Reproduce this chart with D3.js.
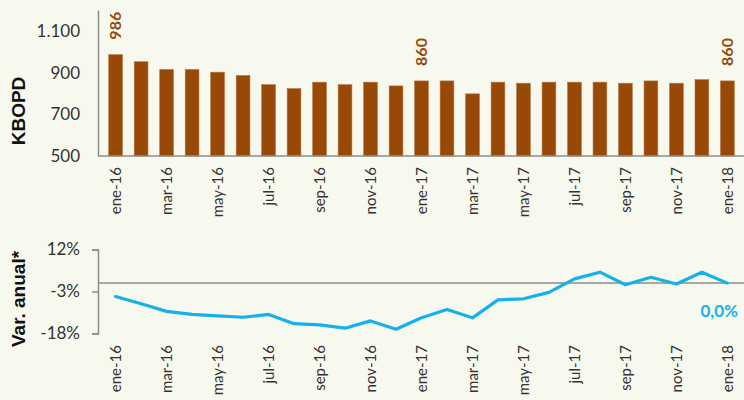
<!DOCTYPE html>
<html lang="es">
<head>
<meta charset="utf-8">
<title>Producción KBOPD</title>
<script src="https://cdn.jsdelivr.net/npm/d3@7"></script>
<style>
    body { margin: 0; background: #f8f9ee; }
    svg { display: block; }
    .tick text { fill: #333; font-family: Lato, sans-serif; }
</style>
</head>
<body>
<div id="chart"></div>
<script>
    var meses = ["ene-16", "feb-16", "mar-16", "abr-16", "may-16", "jun-16", "jul-16", "ago-16", "sep-16", "oct-16", "nov-16", "dic-16",
        "ene-17", "feb-17", "mar-17", "abr-17", "may-17", "jun-17", "jul-17", "ago-17", "sep-17", "oct-17", "nov-17", "dic-17", "ene-18"];
    var produccion = [986, 952, 915, 915, 902, 886, 842, 823, 854, 842, 854, 836,
        860, 860, 798, 854, 849, 854, 854, 854, 849, 860, 849, 866, 860];
    var varAnual = [-4.8, -7.4, -10.1, -11.2, -11.7, -12.2, -11.2, -14.5, -14.9, -16.1, -13.5, -16.5,
        -12.4, -9.4, -12.4, -6.0, -5.6, -3.3, 1.5, 3.9, -0.6, 2.1, -0.3, 3.9, 0.0];
    var etiquetasX = ["ene-16", "mar-16", "may-16", "jul-16", "sep-16", "nov-16", "ene-17", "mar-17", "may-17", "jul-17", "sep-17", "nov-17", "ene-18"];
    var ticksBarras = [500, 700, 900, 1100];
    var ticksVar = [-18, -3, 12];
    var destacados = ["ene-16", "ene-17", "ene-18"];

    var W = 744, H = 400,
        left = 98,
        marron = "#984807",
        azul = "#14b1ec",
        gris = "#8c8c8c";

    var svg = d3.select("#chart").append("svg")
        .attr("width", W)
        .attr("height", H);

    var x = d3.scaleBand().domain(meses).range([97, 746]).padding(0.46);
    var cx = function (m) { return x(m) + x.bandwidth() / 2; };

    // --- barras ---
    var y1 = d3.scaleLinear().domain([500, 1200]).range([156, 10]);

    svg.append("g").selectAll("rect").data(produccion)
        .enter().append("rect")
        .attr("x", function (d, i) { return x(meses[i]); })
        .attr("y", function (d) { return y1(d); })
        .attr("width", x.bandwidth())
        .attr("height", function (d) { return y1(500) - y1(d); })
        .style("fill", marron)
        .style("stroke", "#b87440")
        .style("stroke-width", 0.6);

    // etiquetas de valor en ene de cada año
    svg.append("g").selectAll("text").data(destacados)
        .enter().append("text")
        .attr("transform", function (m) {
            var v = produccion[meses.indexOf(m)];
            return "translate(" + cx(m) + "," + (y1(v) - 15) + ") rotate(-90)";
        })
        .attr("dy", "0.36em")
        .style("font-family", "Lato, sans-serif")
        .style("font-weight", "bold")
        .style("font-size", "16px")
        .style("fill", marron)
        .text(function (m) { return produccion[meses.indexOf(m)]; });

    var ejeY1 = svg.append("g").attr("transform", "translate(" + left + ",0)")
        .call(d3.axisLeft(y1).tickValues(ticksBarras).tickSize(0).tickPadding(18)
            .tickFormat(function (d) { return d3.format(",")(d).replace(",", "."); }));
    ejeY1.select(".domain").attr("stroke", gris).attr("stroke-width", 1.5);
    ejeY1.selectAll("text").style("font-size", "17px");

    svg.append("line")
        .attr("x1", left).attr("x2", W)
        .attr("y1", y1(500)).attr("y2", y1(500))
        .attr("stroke", gris).attr("stroke-width", 1.5);

    var ejeX1 = svg.append("g").attr("transform", "translate(0," + y1(500) + ")")
        .call(d3.axisBottom(x).tickValues(etiquetasX).tickSize(0));
    ejeX1.select(".domain").remove();
    ejeX1.selectAll("text")
        .attr("transform", "rotate(-90)")
        .attr("x", -11).attr("y", 0).attr("dy", "0.36em")
        .style("text-anchor", "end")
        .style("font-size", "15px");

    svg.append("text")
        .attr("transform", "translate(18,111) rotate(-90)")
        .attr("dy", "0.36em")
        .style("text-anchor", "middle")
        .style("font-family", "'Liberation Sans', Arial, sans-serif")
        .style("font-weight", "bold")
        .style("font-size", "19px")
        .style("fill", "#111")
        .text("KBOPD");

    // --- variación anual ---
    var y2 = d3.scaleLinear().domain([-18, 12]).range([333.5, 249.5]);

    var ejeY2 = svg.append("g").attr("transform", "translate(" + left + ",0)")
        .call(d3.axisLeft(y2).tickValues(ticksVar).tickSize(6).tickSizeOuter(6).tickPadding(12)
            .tickFormat(function (d) { return d + "%"; }));
    ejeY2.select(".domain").attr("stroke", gris).attr("stroke-width", 1.5);
    ejeY2.selectAll(".tick line").attr("stroke", gris).attr("stroke-width", 1.5);
    ejeY2.selectAll("text").style("font-size", "17px");

    svg.append("line")
        .attr("x1", left).attr("x2", W)
        .attr("y1", y2(0)).attr("y2", y2(0))
        .attr("stroke", gris).attr("stroke-width", 1.5);

    var linea = d3.line()
        .x(function (d, i) { return cx(meses[i]); })
        .y(function (d) { return y2(d); });

    svg.append("path").datum(varAnual)
        .attr("d", linea)
        .attr("fill", "none")
        .attr("stroke", azul)
        .attr("stroke-width", 3.2)
        .attr("stroke-linejoin", "round")
        .attr("stroke-linecap", "round");

    var ultimo = varAnual[varAnual.length - 1];
    svg.append("text")
        .attr("x", cx(meses[meses.length - 1]) - 27)
        .attr("y", y2(ultimo) + 34)
        .style("font-family", "Lato, sans-serif")
        .style("font-weight", "bold")
        .style("font-size", "17px")
        .style("fill", azul)
        .text(d3.format(".1f")(ultimo).replace(".", ",") + "%");

    var ejeX2 = svg.append("g").attr("transform", "translate(0,334)")
        .call(d3.axisBottom(x).tickValues(etiquetasX).tickSize(0));
    ejeX2.select(".domain").remove();
    ejeX2.selectAll("text")
        .attr("transform", "rotate(-90)")
        .attr("x", -11).attr("y", 0).attr("dy", "0.36em")
        .style("text-anchor", "end")
        .style("font-size", "15px");

    svg.append("text")
        .attr("transform", "translate(18,299) rotate(-90)")
        .attr("dy", "0.36em")
        .style("text-anchor", "middle")
        .style("font-family", "'Liberation Sans', Arial, sans-serif")
        .style("font-weight", "bold")
        .style("font-size", "19px")
        .style("fill", "#111")
        .text("Var. anual*");
</script>
</body>
</html>
